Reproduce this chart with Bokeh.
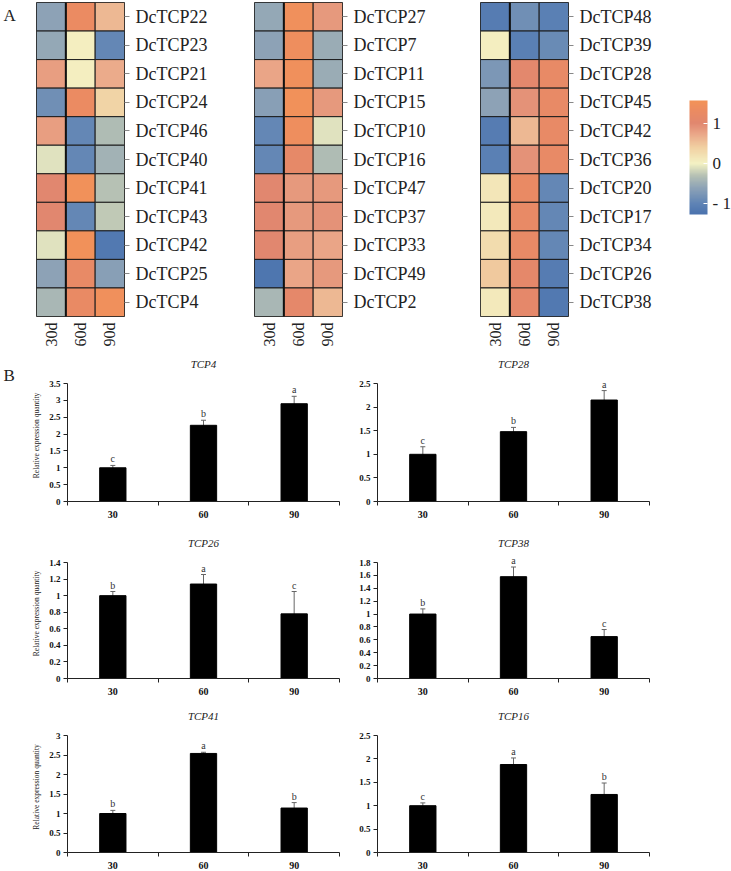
import math
from bokeh.plotting import figure
from bokeh.models import (ColumnDataSource, FactorRange, LinearColorMapper, ColorBar, FixedTicker,
                          Whisker, TeeHead, Label, SingleIntervalTicker, CustomJSTickFormatter,
                          Range1d, Span)
from bokeh.layouts import row, column
from bokeh.embed import file_html
from bokeh.resources import INLINE
from bokeh.core.properties import value

FONT = "Liberation Serif"

# ---------------- Panel A data (z-scores) ----------------
stages = ["30d", "60d", "90d"]

genes_1 = ["DcTCP22", "DcTCP23", "DcTCP21", "DcTCP24", "DcTCP46", "DcTCP40",
           "DcTCP41", "DcTCP43", "DcTCP42", "DcTCP25", "DcTCP4"]
heat1_30d = [-0.6, -0.55, 0.8, -0.85, 0.8, -0.1, 1.0, 1.0, -0.1, -0.6, -0.4]
heat1_60d = [1.3, 0.05, 0.05, 1.3, -0.95, -0.95, 1.5, -0.95, 1.5, 1.2, 1.25]
heat1_90d = [0.6, -0.95, 0.7, 0.35, -0.35, -0.45, -0.3, -0.25, -1.15, -0.65, 1.45]

genes_2 = ["DcTCP27", "DcTCP7", "DcTCP11", "DcTCP15", "DcTCP10", "DcTCP16",
           "DcTCP47", "DcTCP37", "DcTCP33", "DcTCP49", "DcTCP2"]
heat2_30d = [-0.55, -0.6, 0.75, -0.65, -0.95, -0.95, 1.0, 1.0, 1.0, -1.2, -0.4]
heat2_60d = [1.45, 1.4, 1.45, 1.5, 1.4, 1.15, 0.85, 0.85, 0.8, 0.75, 1.1]
heat2_90d = [0.85, -0.5, -0.5, 0.85, -0.1, -0.35, 0.85, 0.9, 0.75, 0.85, 0.6]

genes_3 = ["DcTCP48", "DcTCP39", "DcTCP28", "DcTCP45", "DcTCP42", "DcTCP36",
           "DcTCP20", "DcTCP17", "DcTCP34", "DcTCP26", "DcTCP38"]
heat3_30d = [-1.1, 0.05, -0.75, -0.6, -1.1, -1.05, 0.15, 0.1, 0.25, 0.45, 0.1]
heat3_60d = [-0.85, -1.05, 1.05, 0.9, 0.6, 0.9, 1.25, 1.2, 1.2, 1.1, 1.1]
heat3_90d = [-1.05, -0.9, 1.2, 1.2, 1.2, 1.2, -0.95, -0.95, -0.95, -1.1, -1.15]

cbar_low, cbar_high = -1.26, 1.56
cbar_ticks = [-1, 0, 1]

# ---------------- Panel B data ----------------
days = ["30", "60", "90"]

tcp4_mean = [1.0, 2.26, 2.90]
tcp4_err = [0.07, 0.15, 0.22]
tcp4_letters = ["c", "b", "a"]

tcp28_mean = [1.0, 1.48, 2.15]
tcp28_err = [0.16, 0.09, 0.20]
tcp28_letters = ["c", "b", "a"]

tcp26_mean = [1.0, 1.14, 0.78]
tcp26_err = [0.05, 0.115, 0.27]
tcp26_letters = ["b", "a", "c"]

tcp38_mean = [1.0, 1.58, 0.65]
tcp38_err = [0.08, 0.15, 0.11]
tcp38_letters = ["b", "a", "c"]

tcp41_mean = [1.0, 2.54, 1.14]
tcp41_err = [0.08, 0.03, 0.14]
tcp41_letters = ["b", "a", "b"]

tcp16_mean = [1.0, 1.88, 1.24]
tcp16_err = [0.06, 0.14, 0.245]
tcp16_letters = ["c", "a", "b"]

# ---------------- colour map ----------------
stops = [(-1.26, "#4a72ae"), (-1.0, "#5e83b5"), (-0.6, "#8ea3b6"), (-0.3, "#b6c1b4"),
         (0.0, "#f4f2c4"), (0.4, "#f1d0a2"), (0.75, "#eaa587"), (1.0, "#e1876f"),
         (1.3, "#eb8b62"), (1.56, "#f39358")]


def h2r(h):
    h = h.lstrip("#")
    return [int(h[i:i + 2], 16) for i in (0, 2, 4)]


palette = []
for i in range(256):
    v = cbar_low + (cbar_high - cbar_low) * i / 255
    for (v0, c0), (v1, c1) in zip(stops[:-1], stops[1:]):
        if v0 <= v <= v1 + 1e-9:
            t = (v - v0) / (v1 - v0)
            a, b = h2r(c0), h2r(c1)
            rgb = [round(a[k] + (b[k] - a[k]) * t) for k in range(3)]
            palette.append("#%02x%02x%02x" % tuple(rgb))
            break

mapper = LinearColorMapper(palette=palette, low=cbar_low, high=cbar_high)


def letter_fig(letter, w, h, x, y):
    p = figure(width=w, height=h, min_border=0, toolbar_location=None, output_backend="svg",
               x_axis_location=None, y_axis_location=None)
    p.grid.visible = False
    p.outline_line_color = None
    p.add_layout(Label(x=x, y=y, x_units="screen", y_units="screen", text=letter,
                       text_font=FONT, text_font_size="17px",
                       text_baseline="middle", text_color="#222222"))
    return p


def heatmap(genes, c30, c60, c90, left, right):
    xs, ys, zs = [], [], []
    for g, a, b, c in zip(genes, c30, c60, c90):
        for s, z in zip(stages, (a, b, c)):
            xs.append(s)
            ys.append(g)
            zs.append(z)
    src = ColumnDataSource(dict(x=xs, y=ys, z=zs))
    p = figure(x_range=FactorRange(*stages), y_range=FactorRange(*reversed(genes)),
               frame_width=88, frame_height=314, min_border_left=left, min_border_right=right,
               min_border_top=2, min_border_bottom=36, y_axis_location="right",
               toolbar_location=None, output_backend="svg")
    p.rect("x", "y", 1, 1, source=src, fill_color={"field": "z", "transform": mapper},
           line_color="#1c1c1c", line_width=1)
    p.add_layout(Span(location=1, dimension="height", line_color="#111111", line_width=2))
    p.grid.visible = False
    p.outline_line_color = "#333333"
    p.xaxis.major_label_orientation = math.pi / 2
    p.xaxis.major_tick_line_color = None
    p.xaxis.axis_line_color = None
    p.xaxis.major_label_standoff = 0
    p.xaxis.major_label_text_font = FONT
    p.xaxis.major_label_text_font_size = "16px"
    p.xaxis.major_label_text_color = "#222222"
    p.yaxis.axis_line_color = None
    p.yaxis.major_tick_out = 5
    p.yaxis.major_tick_in = 0
    p.yaxis.major_tick_line_color = "#888888"
    p.yaxis.major_label_standoff = 6
    p.yaxis.major_label_text_font = FONT
    p.yaxis.major_label_text_font_size = "18px"
    p.yaxis.major_label_text_color = "#222222"
    return p


# letter figures share the row's frame alignment; y is measured from the frame bottom
af = letter_fig("A", 36, 352, 3, 301)
h1 = heatmap(genes_1, heat1_30d, heat1_60d, heat1_90d, 0, 130)
h2 = heatmap(genes_2, heat2_30d, heat2_60d, heat2_90d, 0, 138)
h3 = heatmap(genes_3, heat3_30d, heat3_60d, heat3_90d, 0, 112)

cbf = figure(width=51, height=352, min_border=0, toolbar_location=None, output_backend="svg",
             x_axis_location=None, y_axis_location=None)
cbf.grid.visible = False
cbf.outline_line_color = None
cb = ColorBar(color_mapper=mapper, ticker=FixedTicker(ticks=cbar_ticks),
              major_label_overrides={-1: "- 1", 0: "0", 1: "1"},
              width=18, height=114, location=(9, 102), padding=0, margin=0,
              major_label_text_font=FONT, major_label_text_font_size="17px",
              major_label_text_color="#222222",
              major_tick_line_color="white", major_tick_in=4, major_tick_out=0,
              bar_line_color=None, label_standoff=5,
              background_fill_alpha=0, border_line_color=None)
cbf.add_layout(cb, "center")

EXTRA = 14  # pixels of headroom above the top tick, so letters are not clipped


def barchart(name, means, errs, letters, ymax, step, left, right, top, fh, bottom,
             ylabel=False):
    yend = ymax * (fh + EXTRA) / fh
    p = figure(x_range=Range1d(0, 3), y_range=Range1d(0, yend), frame_width=272,
               frame_height=fh + EXTRA, min_border_left=left, min_border_right=right,
               min_border_top=top - EXTRA, min_border_bottom=bottom, toolbar_location=None,
               output_backend="svg", title=name)
    x = [i + 0.5 for i in range(len(days))]
    upper = [m + e for m, e in zip(means, errs)]
    lower = [m - e for m, e in zip(means, errs)]
    src = ColumnDataSource(dict(x=x, top=means, upper=upper, lower=lower, lab=letters))
    p.vbar(x="x", top="top", width=0.29, source=src, fill_color="black", line_color="black")
    p.add_layout(Whisker(base="x", upper="upper", lower="lower", source=src,
                         line_color="#666666", line_width=1,
                         upper_head=TeeHead(size=5, line_color="#666666", line_width=1),
                         lower_head=TeeHead(size=5, line_color="#666666", line_width=1)))
    p.text(x="x", y="upper", text="lab", source=src, text_align="center", text_baseline="bottom",
           text_font=value(FONT), text_font_size="10px", text_color="#333333", y_offset=-1)
    p.grid.visible = False
    p.outline_line_color = None
    p.title.align = "center"
    p.title.text_font = FONT
    p.title.text_font_style = "italic"
    p.title.text_font_size = "11px"
    p.title.text_color = "#222222"
    p.title.standoff = 0
    # x axis: ticks at category boundaries, labels at centres
    p.xaxis.ticker = FixedTicker(ticks=x, minor_ticks=[0, 1, 2, 3])
    p.xaxis.major_label_overrides = {xx: d for xx, d in zip(x, days)}
    p.xaxis.major_tick_line_color = None
    p.xaxis.minor_tick_out = 4
    p.xaxis.minor_tick_in = 0
    p.xaxis.minor_tick_line_color = "#222222"
    p.xaxis.axis_line_color = "#222222"
    p.xaxis.major_label_standoff = 3
    p.xaxis.major_label_text_font = FONT
    p.xaxis.major_label_text_font_style = "bold"
    p.xaxis.major_label_text_font_size = "10px"
    p.xaxis.major_label_text_color = "#111111"
    # y axis
    p.yaxis.ticker = SingleIntervalTicker(interval=step)
    p.yaxis.bounds = (0, ymax * 1.0001)
    p.yaxis.formatter = CustomJSTickFormatter(code="return String(+tick.toFixed(2));")
    p.yaxis.minor_tick_line_color = None
    p.yaxis.major_tick_out = 4
    p.yaxis.major_tick_in = 0
    p.yaxis.major_tick_line_color = "#222222"
    p.yaxis.axis_line_color = "#222222"
    p.yaxis.major_label_standoff = 3
    p.yaxis.major_label_text_font = FONT
    p.yaxis.major_label_text_font_style = "bold"
    p.yaxis.major_label_text_font_size = "9px"
    p.yaxis.major_label_text_color = "#111111"
    if ylabel:
        p.yaxis.axis_label = "Relative expression quantity"
        p.yaxis.axis_label_text_font = FONT
        p.yaxis.axis_label_text_font_style = "normal"
        p.yaxis.axis_label_text_font_size = "7.5px"
        p.yaxis.axis_label_text_color = "#222222"
        p.yaxis.axis_label_standoff = 5
    return p


bf = letter_fig("B", 20, 178, 3, 126)
b1 = barchart("TCP4", tcp4_mean, tcp4_err, tcp4_letters, 3.5, 0.5, 47, 11, 31, 118, 29,
              ylabel=True)
b2 = barchart("TCP28", tcp28_mean, tcp28_err, tcp28_letters, 2.5, 0.5, 27, 82, 31, 118, 29)
b3 = barchart("TCP26", tcp26_mean, tcp26_err, tcp26_letters, 1.4, 0.2, 67, 11, 32, 116, 29,
              ylabel=True)
b4 = barchart("TCP38", tcp38_mean, tcp38_err, tcp38_letters, 1.8, 0.2, 27, 82, 32, 116, 29)
b5 = barchart("TCP41", tcp41_mean, tcp41_err, tcp41_letters, 3.0, 0.5, 67, 11, 28, 117, 19,
              ylabel=True)
b6 = barchart("TCP16", tcp16_mean, tcp16_err, tcp16_letters, 2.5, 0.5, 27, 82, 28, 117, 19)

layout = column(row(af, h1, h2, h3, cbf), row(bf, b1, b2), row(b3, b4), row(b5, b6))

open("out.html", "w").write(file_html(layout, INLINE))
